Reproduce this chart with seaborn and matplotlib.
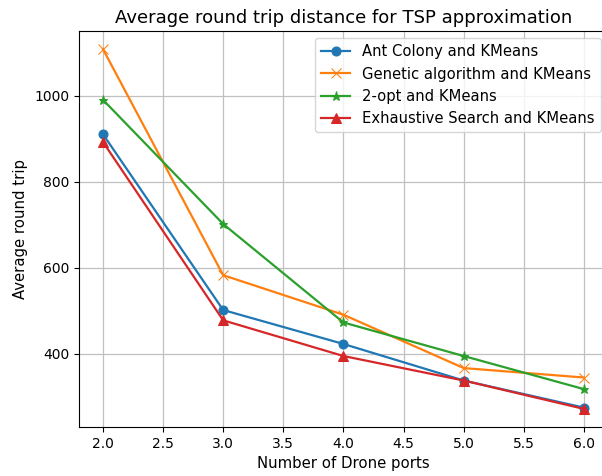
import matplotlib
matplotlib.use("Agg")
import matplotlib.pyplot as plt
import seaborn as sns
import pandas as pd

# Number of drone ports evaluated
ports = [2.0, 3.0, 4.0, 5.0, 6.0]

# Average round-trip distance per method
ant_colony = [911, 502, 423, 338, 275]
genetic = [1109, 583, 491, 367, 345]
two_opt = [991, 702, 473, 395, 318]
exhaustive = [893, 478, 395, 338, 272]

series = [
    ("Ant Colony and KMeans", ant_colony, "o", "#1f77b4"),
    ("Genetic algorithm and KMeans", genetic, "x", "#ff7f0e"),
    ("2-opt and KMeans", two_opt, "*", "#2ca02c"),
    ("Exhaustive Search and KMeans", exhaustive, "^", "#d62728"),
]

fig, ax = plt.subplots(figsize=(6.02, 4.76), dpi=100)
fig.subplots_adjust(left=0.131, right=1.01, top=0.935, bottom=0.103)

for name, values, marker, color in series:
    df = pd.DataFrame({"ports": ports, "dist": values})
    sns.lineplot(data=df, x="ports", y="dist", ax=ax, marker=marker,
                 color=color, label=name, markersize=6.5, linewidth=1.6,
                 markeredgecolor=color)

ax.grid(True, color="#c0c0c0", linewidth=0.9)
ax.set_axisbelow(True)
ax.set_title("Average round trip distance for TSP approximation", fontsize=13)
ax.set_xlabel("Number of Drone ports", fontsize=10.7)
ax.set_ylabel("Average round trip", fontsize=10.7)
ax.set_xticks([2.0, 2.5, 3.0, 3.5, 4.0, 4.5, 5.0, 5.5, 6.0])
ax.set_yticks([400, 600, 800, 1000])
ax.tick_params(labelsize=10)
ax.set_xlim(1.8, 6.2)
ax.set_ylim(230, 1151)
ax.legend(loc="upper right", fontsize=10.6)

fig.savefig("out.png", dpi=100)
